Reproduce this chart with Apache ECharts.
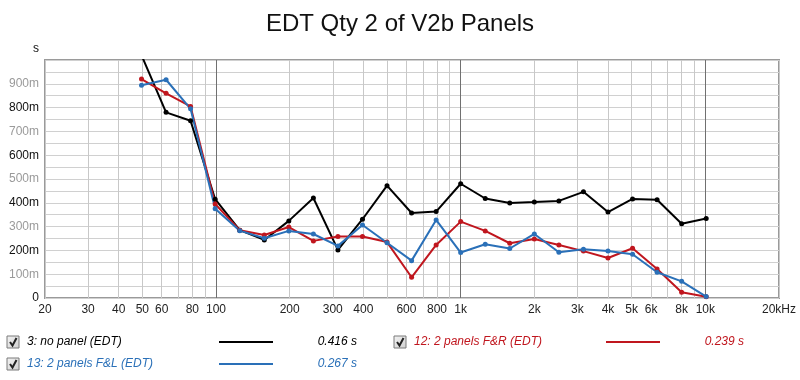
<!DOCTYPE html>
<html>
<head>
<meta charset="utf-8">
<script src="https://cdn.jsdelivr.net/npm/echarts@6/dist/echarts.min.js"></script>
<style>html,body{margin:0;padding:0;background:#fff}#c{width:800px;height:380px}</style>
</head>
<body>
<div id="c"></div>
<script>
// Frequencies (1/3 octave, Hz)
const freqs = [49.6, 62.5, 78.7, 99.2, 125, 157.5, 198.4, 250, 315, 396.9, 500, 630, 793.7, 1000, 1260, 1587, 2000, 2520, 3175, 4000, 5040, 6350, 8000, 10080];
// EDT values (s)
const noPanel  = [1.02, 0.78, 0.745, 0.415, 0.285, 0.244, 0.324, 0.420, 0.202, 0.331, 0.472, 0.357, 0.363, 0.480, 0.418, 0.399, 0.403, 0.408, 0.446, 0.361, 0.416, 0.413, 0.312, 0.334];
const panelsFR = [0.920, 0.860, 0.805, 0.395, 0.285, 0.265, 0.298, 0.240, 0.258, 0.258, 0.235, 0.087, 0.223, 0.321, 0.282, 0.230, 0.248, 0.223, 0.197, 0.168, 0.209, 0.122, 0.024, 0.005];
const panelsFL = [0.894, 0.917, 0.795, 0.375, 0.283, 0.251, 0.282, 0.269, 0.219, 0.307, 0.232, 0.157, 0.328, 0.191, 0.226, 0.208, 0.269, 0.192, 0.205, 0.197, 0.184, 0.108, 0.070, 0.006];
// Axis ticks
const xGridValues = [20,30,40,50,60,70,80,90,100,200,300,400,500,600,700,800,900,1000,2000,3000,4000,5000,6000,7000,8000,9000,10000,20000];
const xLabelValues = [20,30,40,50,60,80,100,200,300,400,600,800,1000,2000,3000,4000,5000,6000,8000,10000,20000];
const xMajorLines = [100, 1000, 10000];
const seriesNames = ['3: no panel (EDT)', '12: 2 panels F&R (EDT)', '13: 2 panels F&L (EDT)'];
const seriesAverages = ['0.416 s', '0.239 s', '0.267 s'];

const BLACK = '#000000', RED = '#c0161e', BLUE = '#2a70b8';
const FONT = '"Liberation Sans", Arial, sans-serif';

function mk(data) { return freqs.map((f, i) => [f, data[i]]); }

function xFmt(v) {
  if (v >= 20000) return '20kHz';
  if (v >= 1000) return (v / 1000) + 'k';
  return String(v);
}

function lineSeries(name, data, color, extra) {
  return Object.assign({
    name, type: 'line', data: mk(data), clip: true,
    symbol: 'circle', symbolSize: 5, showSymbol: true,
    lineStyle: { color, width: 2 }, itemStyle: { color },
    emphasis: { disabled: true }, animation: false, z: 5
  }, extra || {});
}

function checkbox(x, y) {
  return {
    type: 'group', x, y, children: [
      { type: 'rect', shape: { x: 0, y: 0, width: 12, height: 12 },
        style: { fill: { type: 'linear', x: 0, y: 0, x2: 1, y2: 1, colorStops: [{ offset: 0, color: '#f4f4f4' }, { offset: 1, color: '#cfcfcf' }] }, stroke: '#7a7a7a', lineWidth: 1 } },
      { type: 'polyline', shape: { points: [[3, 6], [5.5, 9.5], [9.5, 2]] }, style: { stroke: '#222', lineWidth: 2, fill: null } }
    ]
  };
}

function legendRow(x0, y, idx, color, lineX, valRight) {
  return [
    checkbox(x0, y - 6),
    { type: 'text', x: x0 + 20, y, style: { text: seriesNames[idx], fill: color, font: 'italic 12px ' + FONT, textVerticalAlign: 'middle' } },
    { type: 'line', shape: { x1: lineX, y1: y, x2: lineX + 54, y2: y }, style: { stroke: color, lineWidth: 2 } },
    { type: 'text', x: valRight, y, style: { text: seriesAverages[idx], fill: color, font: 'italic 12px ' + FONT, textAlign: 'right', textVerticalAlign: 'middle' } }
  ];
}

const chart = echarts.init(document.getElementById('c'), null, { renderer: 'canvas' });
chart.setOption({
  animation: false,
  backgroundColor: '#ffffff',
  title: { text: 'EDT Qty 2 of V2b Panels', left: 'center', top: 7, textStyle: { fontFamily: FONT, fontSize: 24, fontWeight: 'normal', color: '#111' } },
  grid: { left: 45, right: 21, top: 60, bottom: 82, show: true, borderColor: '#9a9a9a', borderWidth: 2, backgroundColor: '#fff' },
  xAxis: {
    type: 'log', logBase: 10, min: 20, max: 20000,
    axisLine: { show: false },
    axisTick: { show: false, customValues: xGridValues },
    axisLabel: { customValues: xLabelValues, formatter: xFmt, fontFamily: FONT, fontSize: 12, color: '#222', margin: 6, showMinLabel: true, showMaxLabel: true, hideOverlap: false },
    splitLine: { show: true, lineStyle: { color: '#c8c8c8', width: 1 } }
  },
  yAxis: {
    type: 'value', min: 0, max: 1, interval: 0.05,
    axisLine: { show: false }, axisTick: { show: false },
    axisLabel: {
      fontFamily: FONT, fontSize: 12, margin: 6,
      formatter: v => {
        const k = Math.round(v * 20);
        if (k % 2 === 1 || k === 20) return '';
        if (k === 0) return '0';
        return Math.round(v * 1000) + 'm';
      },
      color: (v) => (Math.round(v * 10) % 2 === 1 ? '#9a9a9a' : '#111')
    },
    splitLine: { show: true, lineStyle: { color: '#d0d0d0', width: 1 } }
  },
  series: [
    lineSeries(seriesNames[0], noPanel, BLACK, {
      markLine: {
        silent: true, symbol: 'none', animation: false,
        label: { show: false },
        lineStyle: { color: '#707070', width: 1, type: 'solid' },
        data: xMajorLines.map(v => ({ xAxis: v }))
      }
    }),
    lineSeries(seriesNames[1], panelsFR, RED),
    lineSeries(seriesNames[2], panelsFL, BLUE)
  ],
  graphic: [
    { type: 'text', x: 36, y: 49, style: { text: 's', fill: '#111', font: '12px ' + FONT, textAlign: 'center', textVerticalAlign: 'middle' } },
    ...legendRow(7, 342, 0, BLACK, 219, 357),
    ...legendRow(394, 342, 1, RED, 606, 744),
    ...legendRow(7, 364, 2, BLUE, 219, 357)
  ]
});
</script>
</body>
</html>
